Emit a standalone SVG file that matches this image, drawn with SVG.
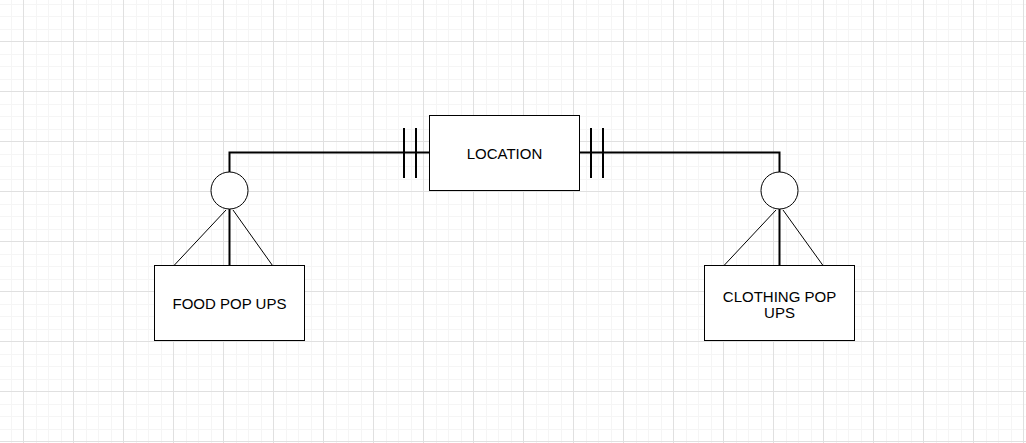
<svg xmlns="http://www.w3.org/2000/svg" width="1026" height="443" viewBox="0 0 1026 443">
<defs>
<pattern id="grid" x="23" y="41" width="50" height="50" patternUnits="userSpaceOnUse">
<path d="M13 0V50M25 0V50M38 0V50M0 13H50M0 25H50M0 38H50" stroke="#f5f5f5" stroke-width="1" fill="none" shape-rendering="crispEdges"/>
<path d="M0 0V50M0 0H50" stroke="#e0e0e0" stroke-width="1" fill="none" shape-rendering="crispEdges"/>
</pattern>
</defs>
<style>
.box{fill:#fff;stroke:#000;stroke-width:1}
.lbl{font-family:"Liberation Sans",Arial,sans-serif;font-size:15px;fill:#000;text-anchor:middle}
.thick{stroke:#000;stroke-width:2;fill:none}
.thin{stroke:#000;stroke-width:1;fill:none}
.circ{fill:#fff;stroke:#000;stroke-width:1}
</style>
<rect width="1026" height="443" fill="#fff"/>
<rect width="1026" height="443" fill="url(#grid)"/>
<g id="connectors">
<path class="thick" d="M229.5 172V152.5H429.5"/>
<path class="thick" d="M404 128V178M416 128V178"/>
<path class="thick" d="M579.5 152.5H779.5V172"/>
<path class="thick" d="M591 128V178M603 128V178"/>
<circle class="circ" cx="229.5" cy="190.5" r="18.5"/>
<path class="thick" d="M229.5 209V265.5"/>
<path class="thin" d="M226 210L174 265.5M233 210L272.5 265.5"/>
<circle class="circ" cx="779.5" cy="190.5" r="18.5"/>
<path class="thick" d="M779.5 209V265.5"/>
<path class="thin" d="M776 210L724 265.5M783 210L823 265.5"/>
</g>
<g id="location">
<rect class="box" x="429.5" y="115.5" width="150" height="75"/>
<text class="lbl" x="504.5" y="158.5">LOCATION</text>
</g>
<g id="food">
<rect class="box" x="154.5" y="265.5" width="150" height="75"/>
<text class="lbl" x="229.5" y="308.5">FOOD POP UPS</text>
</g>
<g id="clothing">
<rect class="box" x="704.5" y="265.5" width="150" height="75"/>
<text class="lbl" x="779.5" y="301.5">CLOTHING POP</text>
<text class="lbl" x="779.5" y="318.3">UPS</text>
</g>
</svg>
